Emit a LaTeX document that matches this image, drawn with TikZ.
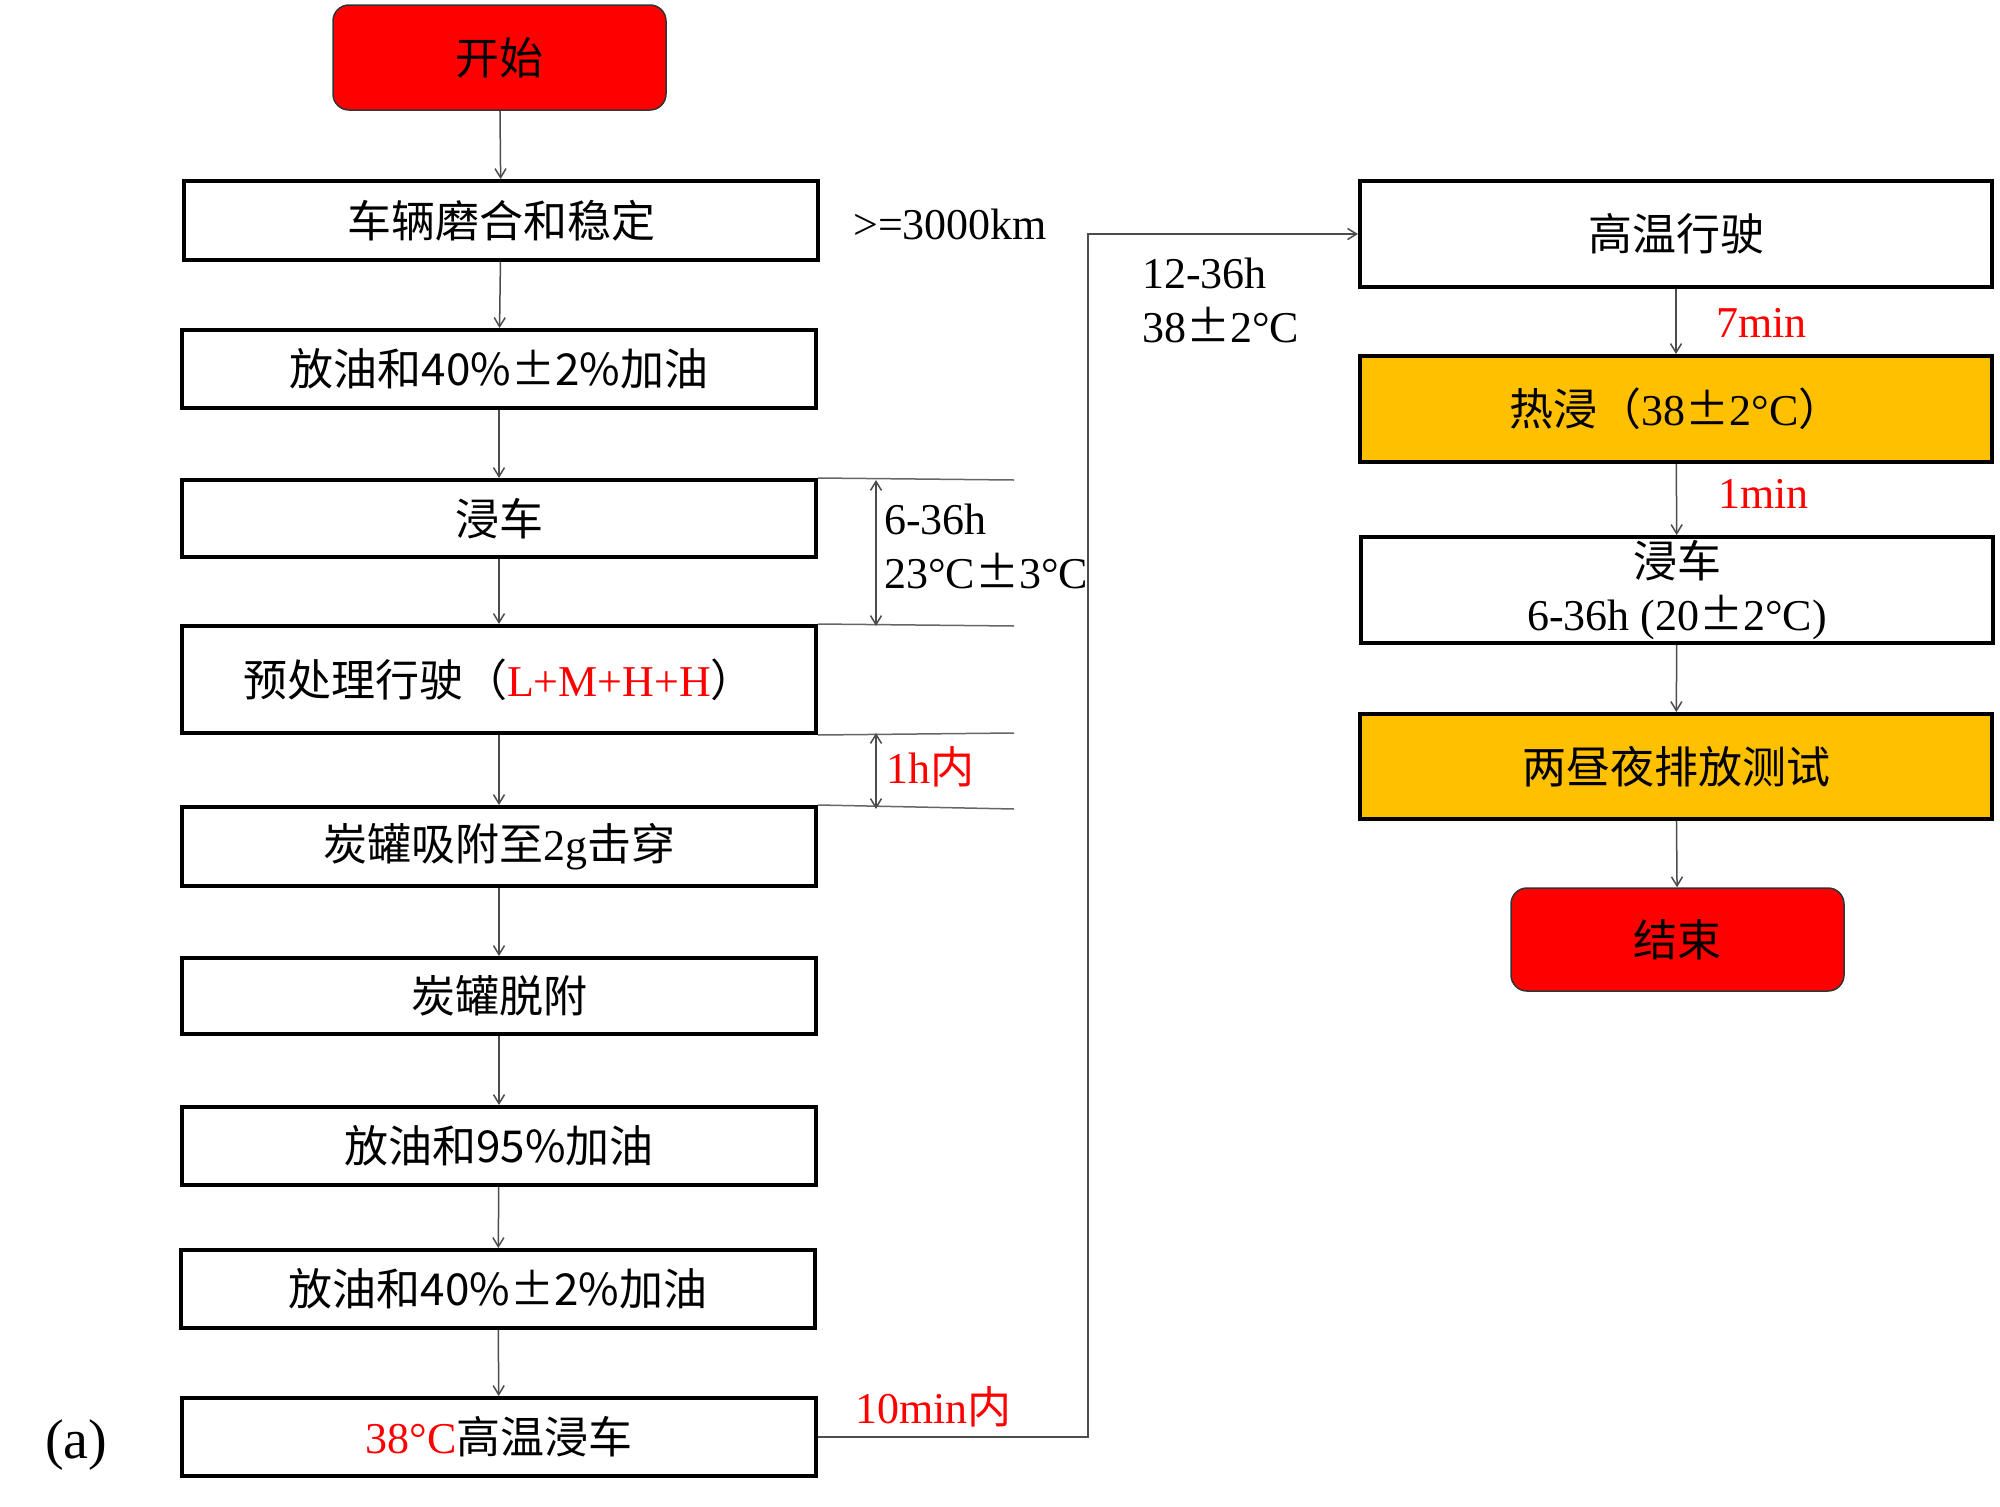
\documentclass[tikz,border=0pt]{standalone}
\usepackage{fontspec}
\setmainfont{Liberation Serif}
\newfontfamily\cjk{Noto Sans CJK SC}
\usetikzlibrary{arrows.meta}
\definecolor{boxorange}{HTML}{FFC000}
\definecolor{myred}{HTML}{FF0000}
\newcommand\pmw{{\cjk ±}}
\begin{document}
\begin{tikzpicture}[x=1pt,y=-1pt,
  stepbox/.style={draw=black, line width=4pt, minimum width=634pt, minimum height=78pt, inner sep=0pt, font=\cjk\fontsize{44}{55}\selectfont, align=center},
  termbox/.style={draw=black!80, line width=1.5pt, fill=myred, rounded corners=16pt, minimum width=333pt, minimum height=105pt, inner sep=0pt, font=\cjk\fontsize{44}{52}\selectfont},
  conn/.style={draw=black!70, line width=1.5pt, -{Straight Barb[length=9pt,width=11pt]}},
  dimline/.style={draw=black!70, line width=1.5pt, {Straight Barb[length=9pt,width=11pt]}-{Straight Barb[length=9pt,width=11pt]}},
  guide/.style={draw=black!60, line width=1.5pt},
  lbl/.style={anchor=west, inner sep=0pt, font=\fontsize{44}{52}\selectfont, align=left},
  redlbl/.style={lbl, text=myred}]
\fill[white] (0,0) rectangle (2000,1507);
\useasboundingbox (0,0) rectangle (2000,1507);

% left column
\node[termbox] (start) at (499.5,57.5) {开始};
\node[stepbox, minimum height=79pt] (b1) at (501,220.5) {车辆磨合和稳定};
\node[stepbox] (b2) at (499,369) {放油和40\%±2\%加油};
\node[stepbox, minimum height=77pt] (b3) at (499,518.5) {浸车};
\node[stepbox, minimum height=107pt] (b4) at (499,679.5) {预处理行驶（{\rmfamily\color{myred}L+M+H+H}）};
\node[stepbox, minimum height=79pt] (b5) at (499,846.5) {炭罐吸附至{\rmfamily 2g}击穿};
\node[stepbox, minimum height=76pt] (b6) at (499,996) {炭罐脱附};
\node[stepbox] (b7) at (499,1146) {放油和95\%加油};
\node[stepbox] (b8) at (498,1289) {放油和40\%±2\%加油};
\node[stepbox] (b9) at (499,1437) {{\rmfamily\color{myred}38°C}高温浸车};

\draw[conn] (start) -- (b1);
\draw[conn] (b1) -- (b2);
\draw[conn] (b2) -- (b3);
\draw[conn] (b3) -- (b4);
\draw[conn] (b4) -- (b5);
\draw[conn] (b5) -- (b6);
\draw[conn] (b6) -- (b7);
\draw[conn] (b7) -- (b8);
\draw[conn] (b8) -- (b9);

% right column
\node[stepbox, minimum width=632pt, minimum height=106pt] (r1) at (1676,234) {高温行驶};
\node[stepbox, minimum width=632pt, minimum height=106pt, fill=boxorange] (r2) at (1676,409) {热浸（{\rmfamily 38\pmw 2°C}）};
\node[stepbox, minimum width=632pt, minimum height=106pt] (r3) at (1677,590) {浸车\\[-2pt]{\rmfamily 6-36h (20\pmw 2°C)}};
\node[stepbox, minimum width=632pt, minimum height=105pt, fill=boxorange] (r4) at (1676,766.5) {两昼夜排放测试};
\node[termbox, minimum height=103pt] (end) at (1677.5,939.5) {结束};

\draw[conn] (r1) -- (r2);
\draw[conn] (r2) -- (r3);
\draw[conn] (r3) -- (r4);
\draw[conn] (r4) -- (end);

% long connector
\coordinate (turn) at (1088,1437);
\draw[conn] (b9.east) -- (turn) |- (r1.west);

% guide lines and dimension arrows
\coordinate (g1) at (1014,480);
\coordinate (g2) at (1014,626);
\coordinate (g3) at (1014,733);
\coordinate (g4) at (1014,809);
\draw[guide] (b3.north east) -- (g1);
\draw[guide] (b4.north east) -- (g2);
\draw[guide] (b4.south east) -- (g3);
\draw[guide] (b5.north east) -- (g4);
\coordinate (d1) at (876,480);
\coordinate (d2) at (876,626);
\coordinate (d3) at (876,733);
\coordinate (d4) at (876,809);
\draw[dimline] (d1) -- (d2);
\draw[dimline] (d3) -- (d4);

% labels
\node[lbl] (l3000) at (853,224) {>=3000km};
\node[lbl] (l636a) at (884,519) {6-36h};
\node[lbl] (l23) at (884,571) {23°C\pmw 3°C};
\node[redlbl] (l1h) at (886,767) {1h{\cjk 内}};
\node[lbl] (l1236) at (1142,273) {12-36h};
\node[lbl] (l38) at (1142,325) {38\pmw 2°C};
\node[redlbl] (l7) at (1716,323) {7min};
\node[redlbl] (l1) at (1718,494) {1min};
\node[redlbl] (l10) at (855,1407) {10min{\cjk 内}};
\node[lbl, font=\fontsize{56}{60}\selectfont] (la) at (45,1445) {(a)};
\end{tikzpicture}
\end{document}
